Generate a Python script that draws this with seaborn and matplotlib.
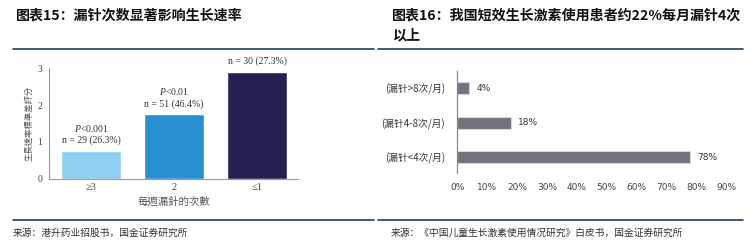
import matplotlib
matplotlib.use("Agg")
import matplotlib.pyplot as plt
import seaborn as sns
import pandas as pd
from matplotlib.lines import Line2D

sns.set_theme(style="white")
plt.rcParams['font.family'] = ['Noto Sans CJK SC', 'DejaVu Sans']
plt.rcParams['mathtext.fontset'] = 'custom'
plt.rcParams['mathtext.it'] = 'Liberation Serif:italic'
plt.rcParams['mathtext.rm'] = 'Liberation Serif'

# ---- data ----
left_cats = ["≥3", "2", "≤1"]
left_vals = [0.75, 1.75, 2.9]
left_n = ["n = 29 (26.3%)", "n = 51 (46.4%)", "n = 30 (27.3%)"]
left_p = ["<0.001", "<0.01", None]
left_colors = ["#8ECEF0", "#2A90D4", "#232052"]

right_cats = ["(漏针>8次/月)", "(漏针4-8次/月)", "(漏针<4次/月)"]
right_vals = [4, 18, 78]
right_ticks = [0, 10, 20, 30, 40, 50, 60, 70, 80, 90]

W, H = 753, 245
fig = plt.figure(figsize=(W / 100, H / 100), dpi=100)

def fx(px): return px / W
def fy(py): return 1 - py / H

# titles
fig.text(fx(16), fy(16), "图表15：漏针次数显著影响生长速率", fontsize=10.1, fontweight="bold",
         va="center", ha="left", color="#111111")
fig.text(fx(392), fy(25.5), "图表16：我国短效生长激素使用患者约22%每月漏针4次\n以上", fontsize=10.1,
         fontweight="bold", va="center", ha="left", color="#111111",
         linespacing=1.6)

# rules
for (x0, x1) in [(13, 374), (378, 743)]:
    fig.add_artist(Line2D([fx(x0), fx(x1)], [fy(49), fy(49)], color="#1F3F5F", lw=1.2))
    fig.add_artist(Line2D([fx(x0), fx(x1)], [fy(220), fy(220)], color="#1F3F5F", lw=1.2))

fig.text(fx(13), fy(233), "来源：港升药业招股书，国金证券研究所", fontsize=7, va="center", ha="left",
         color="#333333")
fig.text(fx(391), fy(233), "来源：《中国儿童生长激素使用情况研究》白皮书，国金证券研究所", fontsize=7,
         va="center", ha="left", color="#333333")

# ---- left chart ----
axL = fig.add_axes([fx(49), fy(178.7), fx(298) - fx(49), fy(68.3) - fy(178.7)])
dfL = pd.DataFrame({"cat": left_cats, "val": left_vals})
sns.barplot(data=dfL, x="cat", y="val", hue="cat", palette=left_colors, legend=False,
            width=0.72, ax=axL, saturation=1)
axL.set_xlim(-0.506, 2.494)
axL.set_ylim(0, 3)
axL.set_yticks([0, 1, 2, 3])
for s in ["top", "right"]:
    axL.spines[s].set_visible(False)
for s in ["left", "bottom"]:
    axL.spines[s].set_color("#9A9A9A")
    axL.spines[s].set_linewidth(0.8)
axL.tick_params(axis="y", length=3, width=0.6, color="#9A9A9A", labelsize=7, labelcolor="#444444", pad=2)
axL.tick_params(axis="x", length=0, labelsize=7.5, labelcolor="#444444", pad=3)
for lab in axL.get_xticklabels() + axL.get_yticklabels():
    lab.set_fontfamily(["Liberation Serif", "DejaVu Serif"])
axL.set_xlabel("每週漏針的次數", fontsize=7.5, color="#555555", labelpad=3,
               fontfamily=["Noto Sans CJK TC", "DejaVu Sans"])
axL.set_ylabel("生長速率標準差評分", fontsize=6, color="#555555", labelpad=3,
               fontfamily=["Noto Sans CJK TC", "DejaVu Sans"])
for i, (v, n, p) in enumerate(zip(left_vals, left_n, left_p)):
    axL.annotate(n, (i, v), xytext=(0, 7.5), textcoords="offset points", ha="center",
                 va="center", fontsize=7, color="#333333",
                 fontfamily=["Liberation Serif", "DejaVu Serif"])
    if p:
        axL.annotate("$P$" + p, (i, v), xytext=(0, 16.5), textcoords="offset points",
                     ha="center", va="center", fontsize=7, color="#333333",
                     fontfamily=["Liberation Serif", "DejaVu Serif"])

# ---- right chart ----
axR = fig.add_axes([fx(457.3), fy(173), fx(726) - fx(457.3), fy(70.7) - fy(173)])
dfR = pd.DataFrame({"cat": right_cats, "val": right_vals})
sns.barplot(data=dfR, y="cat", x="val", color="#74737D", width=0.35, ax=axR, saturation=1,
            edgecolor="#D8D8DC", linewidth=0.8)
axR.set_xlim(0, 90)
axR.set_ylim(2.45, -0.5)
axR.set_xticks(right_ticks)
axR.set_xticklabels([f"{t}%" for t in right_ticks])
for s in ["top", "right", "bottom"]:
    axR.spines[s].set_visible(False)
axR.spines["left"].set_color("#8A8A8A")
axR.spines["left"].set_linewidth(0.9)
axR.tick_params(axis="x", length=0, labelsize=6.5, labelcolor="#444444", pad=7)
axR.tick_params(axis="y", length=0, labelsize=7, labelcolor="#333333", pad=9)
for lab in axR.get_xticklabels():
    lab.set_fontfamily(["DejaVu Sans"])
axR.set_xlabel("")
axR.set_ylabel("")
for i, v in enumerate(right_vals):
    axR.annotate(f"{v}%", (v, i), xytext=(5, 0), textcoords="offset points", ha="left",
                 va="center", fontsize=6.5, color="#333333", fontfamily=["DejaVu Sans"])

fig.savefig("out.png", dpi=100)
